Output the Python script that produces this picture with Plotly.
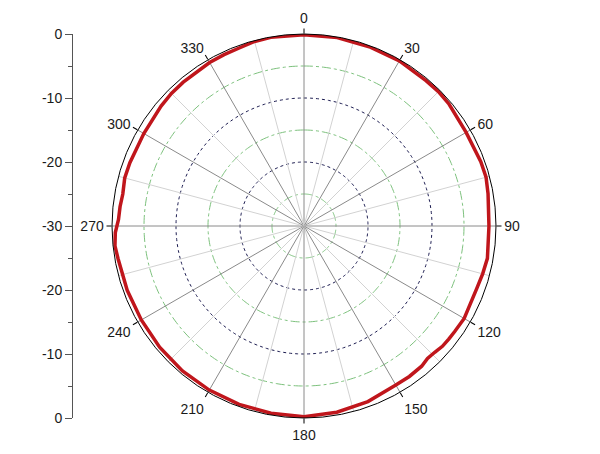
import numpy as np
import plotly.graph_objects as go

# measured pattern (dB) vs angle (deg)
theta_deg = [0, 10, 20, 30, 40, 45, 50, 60, 70, 75, 80, 90, 100, 105, 110, 120,
             125, 128, 131, 134, 137, 140, 145, 150, 160, 170, 180, 190, 200, 210,
             220, 230, 240, 250, 260, 264, 268, 272, 276, 280, 285, 290, 300, 310,
             315, 320, 330, 335, 340, 345, 350, 360]
gain_db = [-0.1, -0.1, -0.2, -0.2, -0.35, -0.3, -0.4, -0.75, -0.6, -0.55, -0.8, -1.1,
           -0.9, -1.1, -1.3, -1.1, -1.25, -1.3, -1.35, -1.6, -1.7, -1.4, -1.3, -1.3,
           -0.8, -0.45, -0.2, -0.3, -0.35, -0.4, -0.45, -0.55, -0.65, -0.6, -0.5,
           -0.3, -0.5, -1.0, -1.1, -1.25, -1.0, -1.05, -1.1, -0.85, -0.7, -0.65,
           -0.5, -0.45, -0.4, -0.15, -0.05, -0.1]

angle_ticks = list(range(0, 360, 30))
side_tickvals = [-30, -20, -10, 0, 10, 20, 30]
side_ticktext = ['0', '-10', '-20', '-30', '-20', '-10', '0']
major_rings = [-10, -20]
minor_rings = [-5, -15, -25]

W, H = 600, 454
OFF = 8  # page body margin

fig = go.Figure()

ring_theta = np.arange(0, 361, 1)
for r in minor_rings:
    fig.add_trace(go.Scatterpolar(r=[r] * len(ring_theta), theta=ring_theta, mode='lines',
                                  line=dict(color='#7cc07c', width=1, dash='dashdot'),
                                  hoverinfo='skip', showlegend=False))
for r in major_rings:
    fig.add_trace(go.Scatterpolar(r=[r] * len(ring_theta), theta=ring_theta, mode='lines',
                                  line=dict(color='#1c1c50', width=1, dash='dot'),
                                  hoverinfo='skip', showlegend=False))

for a in range(0, 360, 15):
    col = '#8a8a8a' if a % 30 == 0 else '#d2d2d2'
    fig.add_trace(go.Scatterpolar(r=[-30, 0], theta=[a, a], mode='lines',
                                  line=dict(color=col, width=1),
                                  hoverinfo='skip', showlegend=False))

fig.add_trace(go.Scatterpolar(r=gain_db, theta=theta_deg, mode='lines',
                              line=dict(color='#c0161c', width=3.5),
                              showlegend=False))

# side scale
fig.add_trace(go.Scatter(x=[0, 0], y=[-30, 30], mode='lines', line=dict(width=0),
                         hoverinfo='skip', showlegend=False))

top, bottom = 34 - OFF, 418 - OFF
fig.update_layout(
    width=W, height=H,
    margin=dict(l=0, r=0, t=0, b=0, autoexpand=False),
    paper_bgcolor='white', plot_bgcolor='rgba(0,0,0,0)',
    font=dict(family='Liberation Sans, Arial', size=14, color='#1a1a1a'),
    polar=dict(
        domain=dict(x=[(112 - OFF) / W, (496 - OFF) / W], y=[(H - bottom) / H, (H - top) / H]),
        bgcolor='white',
        radialaxis=dict(range=[-30, 0], showgrid=False, showticklabels=False,
                        showline=False, ticks=''),
        angularaxis=dict(direction='clockwise', rotation=90, tickvals=angle_ticks,
                         showgrid=False, showline=True, linecolor='black', linewidth=1,
                         ticks='outside', ticklen=5, tickcolor='black'),
    ),
    xaxis=dict(domain=[(73 - OFF) / W, (80 - OFF) / W], visible=False, range=[0, 1]),
    yaxis=dict(domain=[(H - bottom) / H, (H - top) / H], range=[-30, 30], tickvals=side_tickvals,
               ticktext=side_ticktext, showline=True, linecolor='#555', linewidth=1,
               automargin=False,
               ticks='outside', ticklen=7, tickcolor='#555', showgrid=False, zeroline=False,
               minor=dict(ticks='outside', ticklen=4, dtick=5, tickcolor='#555', showgrid=False)),
)

fig.write_html("out.html")
